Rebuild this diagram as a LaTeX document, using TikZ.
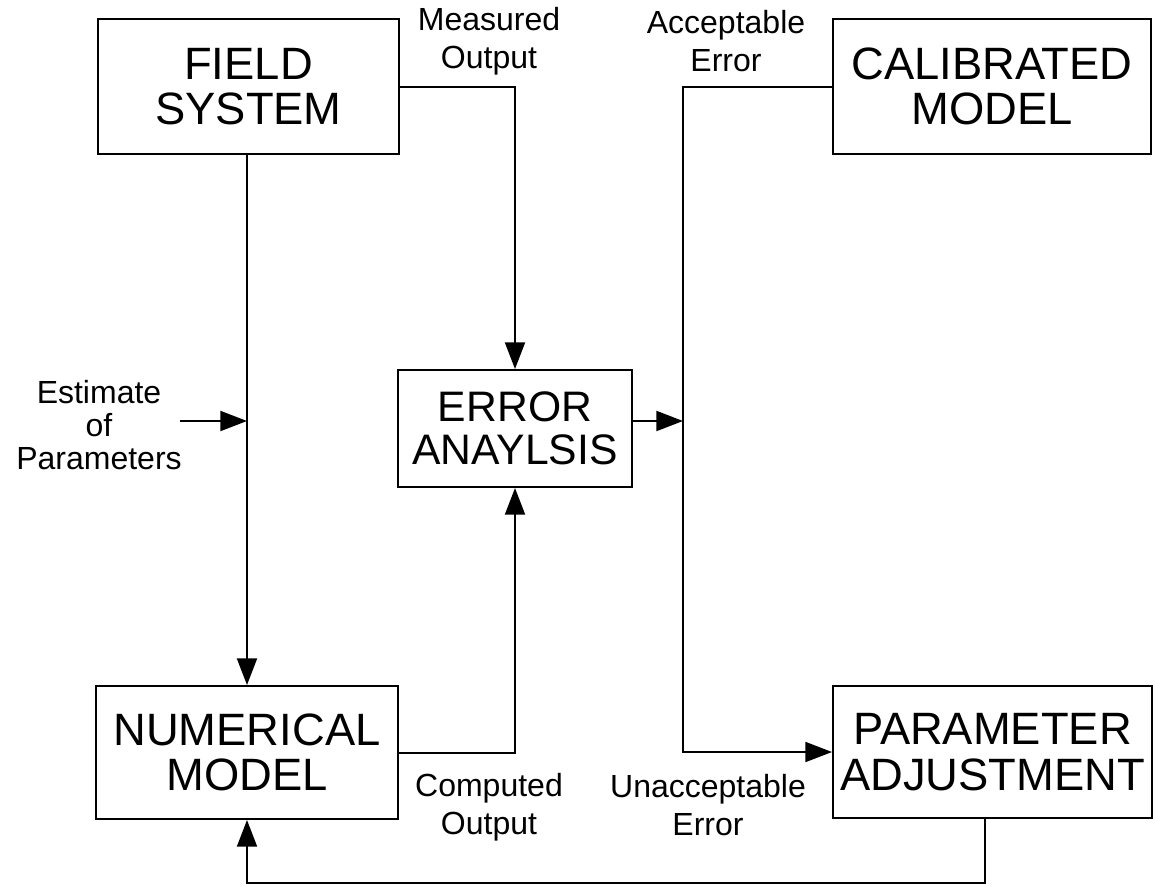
\documentclass[tikz,border=0pt]{standalone}
\usepackage{fontspec}
\setmainfont{Liberation Sans}
\usetikzlibrary{arrows.meta}
\begin{document}
\begin{tikzpicture}[x=0.75pt,y=-0.75pt,
  box/.style={draw, line width=1.5pt, align=center, font=\fontsize{34}{34}\selectfont, inner sep=0pt},
  lbl/.style={align=center, font=\fontsize{24}{28.5}\selectfont, inner sep=0pt},
  conn/.style={line width=1.5pt},
  arr/.style={conn, -{Triangle[length=20pt,width=15pt]}}]
\useasboundingbox (0,0) rectangle (1155,886);
\node[box, minimum width=225.75pt, minimum height=101.25pt] (field) at (248.5,86.5) {FIELD\\SYSTEM};
\node[box, minimum width=238.5pt, minimum height=101.25pt] (calib) at (992,86.5) {CALIBRATED\\MODEL};
\node[box, minimum width=175.5pt, minimum height=87.75pt, font=\fontsize{32}{32.5}\selectfont] (error) at (515,428.5) {ERROR\\ANAYLSIS};
\node[box, minimum width=226.5pt, minimum height=99.75pt] (numer) at (247,752.5) {NUMERICAL\\MODEL};
\node[box, minimum width=239.25pt, minimum height=99pt] (param) at (992.5,752) {PARAMETER\\ADJUSTMENT};

\node[lbl] (meas) at (489,41) {Measured\\Output};
\node[lbl] (acc) at (726,41) {Acceptable\\Error};
\node[lbl] (comp) at (489,807) {Computed\\Output};
\node[lbl] (unacc) at (708,805) {Unacceptable\\Error};
\node[lbl, font=\fontsize{24}{24.5}\selectfont] (estl) at (99,425) {Estimate\\of\\Parameters};

\coordinate (est) at (180,421);
\coordinate (junc) at (683,421);
\coordinate (bend) at (683,752);
\coordinate (fb) at (985,883);

\draw[arr] (field.south -| numer.north) -- (numer.north);
\draw[arr] (field.east) -| (error.north);
\draw[arr] (numer.east) -| (error.south);
\draw[arr] (error.east |- junc) -- (junc);
\draw[arr] (est) -- (est -| numer.north);
\draw[arr] (calib.west) -| (bend) -- (param.west);
\draw[arr] (param.south -| fb) |- (numer.south |- fb) -- (numer.south);
\end{tikzpicture}
\end{document}
